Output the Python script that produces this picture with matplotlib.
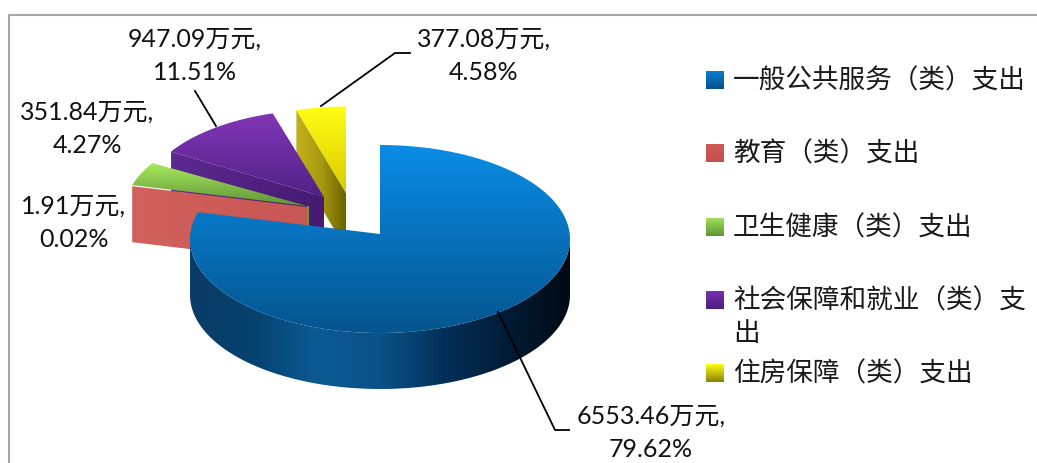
### 3D style exploded pie of the spending categories
import numpy as np
import matplotlib
matplotlib.use("Agg")
import matplotlib.pyplot as plt
from matplotlib.colors import LinearSegmentedColormap
from matplotlib.patches import Polygon

plt.rcParams['font.family'] = ['Lato', 'Noto Sans CJK SC', 'DejaVu Sans']

# Data
categories = ["一般公共服务（类）支出", "教育（类）支出", "卫生健康（类）支出",
              "社会保障和就业（类）支\n出", "住房保障（类）支出"]
amounts = [6553.46, 1.91, 351.84, 947.09, 377.08]
percents = [79.62, 0.02, 4.27, 11.51, 4.58]

# Slice look: apex position in pixels, radius scale, rim centre shift
apex = [(380, 234), (307, 207), (307, 206), (324, 197), (346, 193)]
scale = [1.0, 0.96, 0.96, 0.95, 0.92]
shift = [5, 5, 5, 2, 0]
RX, RY, DEPTH = 190, 94, 56

top_cols = [("#0a8ce6", "#04558f"), ("#d9625f", "#c4504d"), ("#a8ea5c", "#5f9438"),
            ("#8336b8", "#4f2285"), ("#ffff14", "#d9c800")]
wall_cols = [["#0a3c66", "#05426f", "#0c5a94", "#0a5288", "#03305a", "#021c36", "#000a14"],
             ["#d2605c", "#c85652"],
             ["#6a9a3e", "#55802f"],
             ["#5c2a90", "#451a70"],
             ["#c2b21c", "#a89a10", "#6b6400"]]

fig = plt.figure(figsize=(10.37, 4.63), dpi=100)
ax = fig.add_axes([0, 0, 1, 1])
ax.set_xlim(0, 1037)
ax.set_ylim(463, 0)
ax.axis("off")


def rim(k, a, b):
    # clockwise angles from north, degrees
    th = np.radians(np.linspace(a, b, 120))
    x = apex[k][0] + scale[k] * RX * np.sin(th)
    y = apex[k][1] + shift[k] - scale[k] * RY * np.cos(th)
    return np.column_stack([x, y])


def gradient_poly(pts, cols, vertical, z):
    pts = np.asarray(pts)
    cmap = LinearSegmentedColormap.from_list("g", cols)
    g = np.linspace(0, 1, 256)
    g = g[:, None] if vertical else g[None, :]
    x0, x1 = pts[:, 0].min(), pts[:, 0].max()
    y0, y1 = pts[:, 1].min(), pts[:, 1].max()
    im = ax.imshow(g, cmap=cmap, extent=[x0, x1, y1, y0], aspect="auto", zorder=z)
    patch = Polygon(pts, closed=True, transform=ax.transData, fc="none", ec="none")
    ax.add_patch(patch)
    im.set_clip_path(patch)


# Angles come from the amounts, clockwise from 12 o'clock
edges = np.concatenate([[0], np.cumsum(amounts) / np.sum(amounts) * 360])
down = np.array([0, DEPTH])

# Yellow
k = 4
r = rim(k, edges[k], edges[k + 1])
ap = np.array(apex[k])
gradient_poly([r[0], ap, ap + down, r[0] + down], wall_cols[k], False, 2)
gradient_poly(np.vstack([[ap], r]), top_cols[k], True, 3)

# Purple
k = 3
r = rim(k, edges[k], edges[k + 1])
ap = np.array(apex[k])
gradient_poly([r[0], ap, ap + down, r[0] + down], wall_cols[k], False, 4)
gradient_poly(np.vstack([[ap], r]), top_cols[k], True, 5)

# Green, with its cut face showing as a thin sliver
k = 2
r = rim(k, edges[k], edges[k + 1])
ap = np.array(apex[k])
gradient_poly(np.vstack([[ap], r]), top_cols[k], True, 7)

# Red is almost no angle at all so only its cut face shows
k = 1
ap = np.array(apex[k])
r = rim(k, edges[k], edges[k + 1])
gradient_poly([r[0], ap, ap + down, r[0] + down], wall_cols[k], False, 8)
ax.plot([ap[0] + 1, ap[0] + 1], [ap[1], ap[1] + 25], color="#6a9a3e", lw=1.5, zorder=8)

# Blue
k = 0
ap = np.array(apex[k])
front = rim(k, 90, 270)
wall = np.vstack([front, (front + down)[::-1]])
gradient_poly(wall, wall_cols[k], False, 9)
gradient_poly(np.vstack([[ap], rim(k, edges[0], edges[1])]), top_cols[k], True, 10)

# Frame
ax.plot([8.5, 8.5, 1037], [463, 14.5, 14.5], color="#a6a6a6", lw=1.5, zorder=1)

# Leader lines
ax.plot([498, 555, 569], [312, 430, 430], color="black", lw=1.3, zorder=12)
ax.plot([216, 195], [126, 91], color="black", lw=1.3, zorder=12)
ax.plot([321, 395, 410], [106, 53, 53], color="black", lw=1.3, zorder=12)

# Data labels
label_xy = [(651, 433), (74, 223), (87, 129), (195, 56), (484, 56)]
for i in range(5):
    txt = f"{amounts[i]:.2f}万元,\n{percents[i]:.2f}%"
    ax.text(label_xy[i][0], label_xy[i][1], txt, ha="center", va="center",
            fontsize=18, color="#111111", linespacing=1.55, zorder=13)

# Legend
leg_y = [80, 153, 227, 300, 373]
leg_cols = [("#0a7fd0", "#04508a"), ("#cf5a56", "#c4504d"), ("#a0e05a", "#5f9438"),
            ("#7a2fb0", "#4a1f80"), ("#ffff14", "#8a8000")]
for i in range(5):
    y = leg_y[i]
    s = np.array([[706, y - 9], [724, y - 9], [724, y + 9], [706, y + 9]])
    gradient_poly(s, leg_cols[i], True, 5)
    if "\n" in categories[i]:
        ax.text(733, y - 12, categories[i], ha="left", va="top",
                fontsize=19.2, color="#1a1a1a", linespacing=1.38)
    else:
        ax.text(733, y + 1, categories[i], ha="left", va="center",
                fontsize=19.2, color="#1a1a1a")

fig.savefig("out.png", dpi=100)
